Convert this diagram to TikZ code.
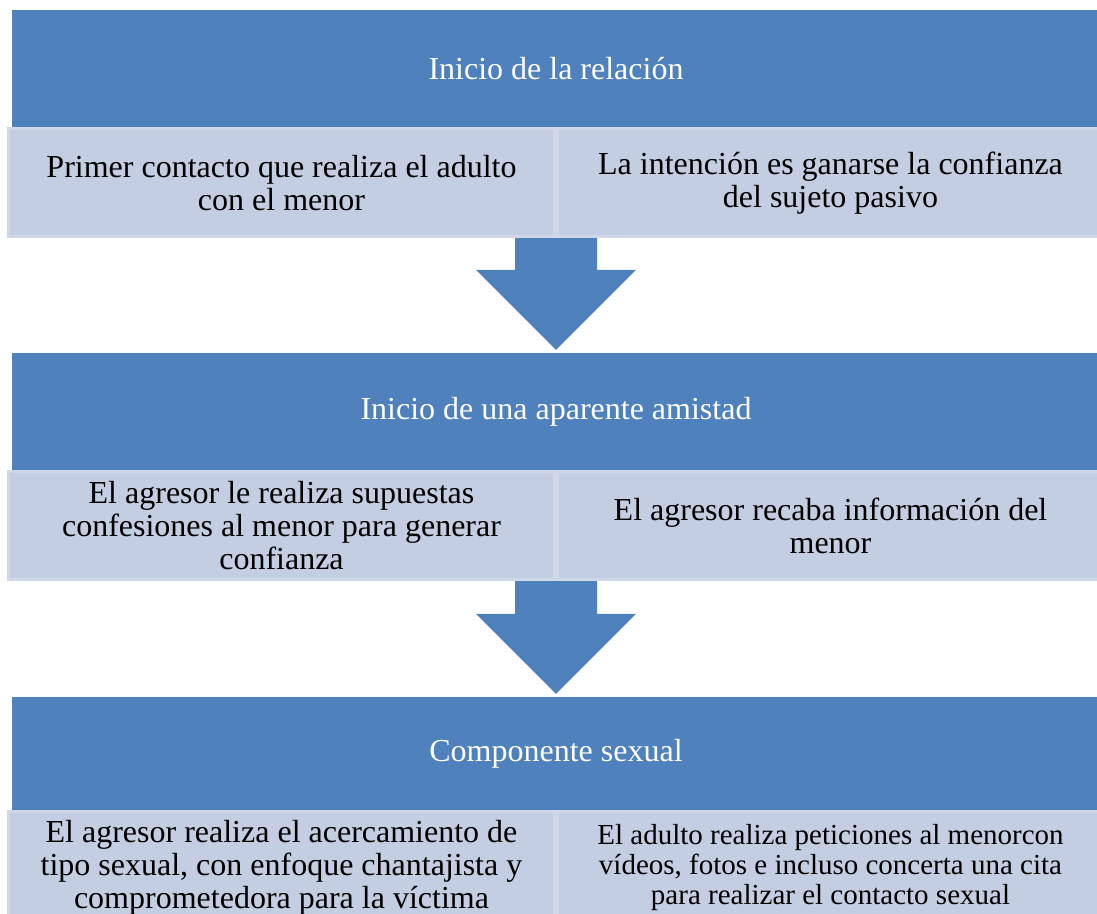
\documentclass[tikz,border=0pt]{standalone}
\usepackage{fontspec}
\setmainfont{Liberation Serif}
\usepackage{xcolor}
\usetikzlibrary{positioning, calc}

\definecolor{hdrblue}{HTML}{4F81BD}
\definecolor{boxfill}{HTML}{C3CEE2}
\definecolor{boxline}{HTML}{CFD7E8}

\tikzset{
    header/.style={fill=hdrblue, text=white, minimum width=1088pt, minimum height=117pt,
        inner sep=0pt, font=\fontsize{32}{33}\selectfont},
    detail/.style={fill=boxfill, draw=boxline, line width=3pt, minimum width=546pt,
        minimum height=108pt, inner sep=0pt, align=center, font=\fontsize{32}{33}\selectfont},
    blockarrow/.style={fill=hdrblue}
}

\begin{document}
\begin{tikzpicture}[x=1pt, y=-1pt]
        \useasboundingbox (0, 0) rectangle (1097, 913);

        \node[header] (h1) at (556, 68.5) {Inicio de la relación};
        \node[detail, below left=0pt of h1.south] (d1a) {Primer contacto que realiza el adulto\\con el menor};
        \node[detail, below right=0pt of h1.south] (d1b) {La intención es ganarse la confianza\\del sujeto pasivo};

        \node[header] (h2) at (556, 411.5) {Inicio de una aparente amistad};
        \node[detail, below left=0pt of h2.south] (d2a) {El agresor le realiza supuestas\\confesiones al menor para generar\\confianza};
        \node[detail, below right=0pt of h2.south] (d2b) {El agresor recaba información del\\menor};

        \node[header, minimum height=113pt] (h3) at (556, 753.5) {Componente sexual};
        \node[detail, below left=0pt of h3.south, minimum height=112pt] (d3a) {El agresor realiza el acercamiento de\\tipo sexual, con enfoque chantajista y\\comprometedora para la víctima};
        \node[detail, below right=0pt of h3.south, minimum height=112pt, font=\fontsize{29}{30}\selectfont] (d3b) {El adulto realiza peticiones al menorcon\\vídeos, fotos e incluso concerta una cita\\para realizar el contacto sexual};

        \foreach \top/\bot in {d1a/h2, d2a/h3} {
            \fill[blockarrow] ($(\bot.north)+(0, -3)$) coordinate (tip)
                -- ++(-80, -80) -- ++(39, 0) |- (\top.south east)
                -- ++(41, 0) |- ($(tip)+(80, -80)$) -- (tip) -- cycle;
        }
    \end{tikzpicture}
\end{document}
